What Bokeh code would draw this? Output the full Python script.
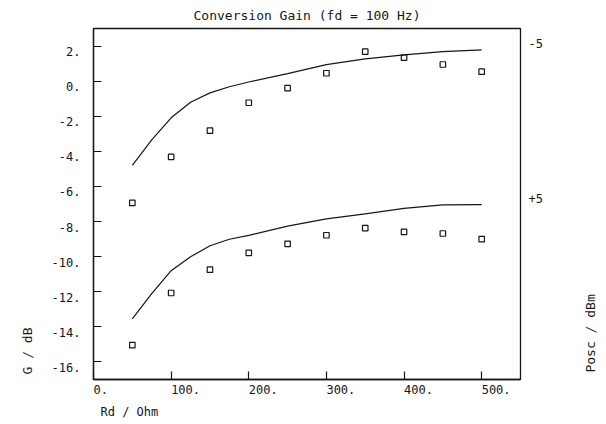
import math
from bokeh.plotting import figure
from bokeh.models import Range1d, FixedTicker, LinearAxis, Title
from bokeh.layouts import row
from bokeh.core.properties import value
from bokeh.embed import file_html
from bokeh.resources import INLINE

# ---- data ----
rd_meas = [50, 100, 150, 200, 250, 300, 350, 400, 450, 500]
g_meas_m5 = [-6.94, -4.32, -2.82, -1.23, -0.40, 0.45, 1.68, 1.34, 0.95, 0.54]
g_meas_p5 = [-15.04, -12.07, -10.74, -9.78, -9.27, -8.78, -8.38, -8.59, -8.68, -9.00]

rd_calc = [50, 75, 100, 125, 150, 175, 200, 250, 300, 350, 400, 450, 500]
g_calc_m5 = [-4.80, -3.35, -2.09, -1.20, -0.67, -0.32, -0.05, 0.43, 0.94, 1.27, 1.50, 1.68, 1.78]
g_calc_p5 = [-13.54, -12.11, -10.80, -10.01, -9.38, -9.01, -8.79, -8.26, -7.85, -7.56, -7.25, -7.05, -7.03]

x_ticks = [0, 100, 200, 300, 400, 500]
x_tick_labels = ["0.", "100.", "200.", "300.", "400.", "500."]
y_ticks = [2, 0, -2, -4, -6, -8, -10, -12, -14, -16]
y_tick_labels = ["2.", "0.", "-2.", "-4.", "-6.", "-8.", "-10.", "-12.", "-14.", "-16."]
curve_labels = ["-5", "+5"]

title_text = "Conversion Gain (fd = 100 Hz)"
x_title = "Rd / Ohm"
y_title = "G / dB"
param_title = "Posc / dBm"

FONT = "DejaVu Sans Mono"
INK = "#161616"
CHAR_W = 12 * 0.602  # advance width of the 12px mono font

X0, X1, Y0, Y1 = 0, 550, -17, 3
PX_PER_X = 427.0 / (X1 - X0)
PX_PER_Y = 352.6 / (Y1 - Y0)

p = figure(width=575, height=424, output_backend="svg", toolbar_location=None,
           x_range=Range1d(X0, X1), y_range=Range1d(Y0, Y1),
           min_border_left=93, min_border_right=55, min_border_top=27, min_border_bottom=45)
p.background_fill_color = "white"
p.border_fill_color = "white"
p.grid.visible = False
p.outline_line_color = INK
p.outline_line_width = 1.3

# main axes: inward ticks only
for ax, ticks in ((p.xaxis[0], x_ticks), (p.yaxis[0], y_ticks)):
    ax.ticker = FixedTicker(ticks=ticks)
    ax.major_tick_in = 8
    ax.major_tick_out = 0
    ax.minor_tick_in = 0
    ax.minor_tick_out = 0
    ax.major_tick_line_color = INK
    ax.major_tick_line_width = 1.2
    ax.axis_line_color = INK
    ax.axis_line_width = 1.3
    ax.major_label_overrides = {t: "" for t in ticks}
    ax.major_label_standoff = 0
    ax.major_label_text_font_size = "1px"

def label_axis(ax, ticks, labels, standoff):
    ax.ticker = FixedTicker(ticks=ticks)
    ax.major_label_overrides = dict(zip(ticks, labels))
    ax.axis_line_color = None
    ax.major_tick_line_color = None
    ax.minor_tick_line_color = None
    ax.major_tick_in = 0
    ax.major_tick_out = 0
    ax.major_label_standoff = standoff
    ax.major_label_text_font = FONT
    ax.major_label_text_font_size = "12px"
    ax.major_label_text_color = INK
    return ax

# y tick labels (plotter style: label sits slightly below its tick)
dy = 5.5 / PX_PER_Y
p.extra_y_ranges["ylab"] = Range1d(Y0 + dy, Y1 + dy)
p.add_layout(label_axis(LinearAxis(y_range_name="ylab"), y_ticks, y_tick_labels, 13), "left")

# x tick labels (plotter style: each label starts at its tick)
x_label_anchor = [t + len(lbl) * CHAR_W / 2 / PX_PER_X for t, lbl in zip(x_ticks, x_tick_labels)]
p.add_layout(label_axis(LinearAxis(), x_label_anchor, x_tick_labels, 5), "below")

# curve parameter labels at the right end of each curve
dc = 6 / PX_PER_Y
p.extra_y_ranges["clab"] = Range1d(Y0 - dc, Y1 - dc)
p.add_layout(label_axis(LinearAxis(y_range_name="clab"),
                        [g_calc_m5[-1], g_calc_p5[-1]], curve_labels, 8), "right")

# calculated curves
p.line(rd_calc, g_calc_m5, line_color=INK, line_width=1.2)
p.line(rd_calc, g_calc_p5, line_color=INK, line_width=1.2)
# measured points
p.scatter(rd_meas, g_meas_m5, marker="square", size=5.5, fill_color=None,
          line_color=INK, line_width=1.2)
p.scatter(rd_meas, g_meas_p5, marker="square", size=5.5, fill_color=None,
          line_color=INK, line_width=1.2)

# titles
p.title.text = title_text
p.title.align = "center"
p.title.text_font = FONT
p.title.text_font_size = "13px"
p.title.text_font_style = "normal"
p.title.text_color = INK
p.title.standoff = 11

p.add_layout(Title(text=x_title, align="left", offset=7, standoff=12, text_font=FONT,
                   text_font_size="12px", text_font_style="normal", text_color=INK), "below")
p.add_layout(Title(text=y_title, align="left", offset=5, standoff=28, text_font=FONT,
                   text_font_size="13px", text_font_style="normal", text_color=INK), "left")

# right strip carrying the parameter title (reads bottom-to-top);
# its frame lines up with the main frame inside the row, so share the G scale
p2 = figure(width=31, height=424, output_backend="svg", toolbar_location=None,
            x_range=Range1d(0, 31), y_range=Range1d(Y0, Y1),
            x_axis_type=None, y_axis_type=None, min_border=0)
p2.outline_line_color = None
p2.grid.visible = False
p2.background_fill_color = "white"
p2.border_fill_color = "white"
p2.text(x=[15], y=[Y1 - (333 - 26.7) / PX_PER_Y], text=[param_title], angle=math.pi / 2,
        text_align="center", text_baseline="middle", text_font=value(FONT),
        text_font_size="13px", text_color=INK)

layout = row(p, p2)
open("out.html", "w").write(file_html(layout, INLINE))
